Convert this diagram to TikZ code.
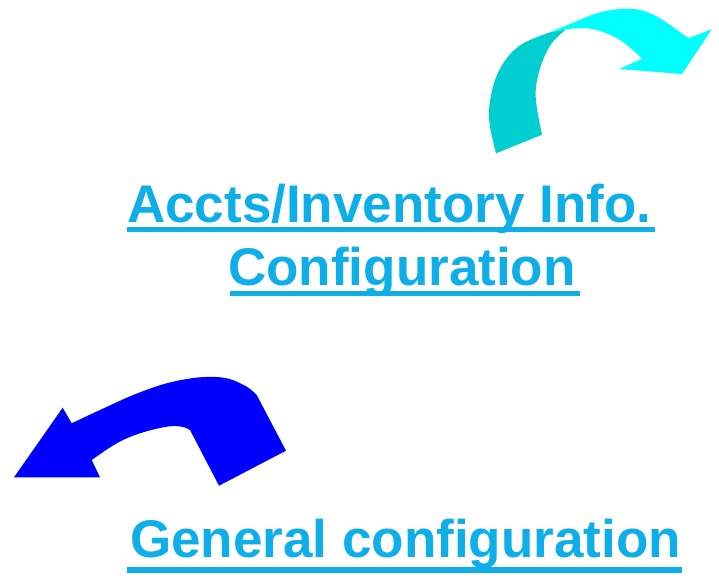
\documentclass[tikz,border=0pt]{standalone}
\usepackage{fontspec}
\setmainfont{Liberation Sans}
\definecolor{txtblue}{RGB}{14,174,233}
\definecolor{cyanlight}{RGB}{0,255,255}
\definecolor{cyandark}{RGB}{0,206,209}
\definecolor{arrblue}{RGB}{0,0,255}
\tikzset{
  label text/.style={text=txtblue, font=\fontsize{53}{60}\selectfont\bfseries, inner sep=0pt, anchor=base west},
  uline/.style={fill=txtblue}
}
\begin{document}
\begin{tikzpicture}[x=1pt,y=-1pt]
\useasboundingbox[fill=white] (0,0) rectangle (719,580);

% cyan curved arrow: dark lower part
\fill[cyandark] (496,153.3)
  -- plot[smooth, tension=0.6] coordinates {(496,153.3) (490,126.7) (489.3,106.7) (495,80) (506.7,58.3) (523.3,43.3) (550,32.3)}
  -- (566,29.3)
  -- plot[smooth, tension=0.6] coordinates {(566,29.3) (551.7,43.3) (541.7,63.3) (536,86.7) (536.7,106.7) (542,134.7)}
  -- cycle;
% cyan curved arrow: bright upper part
\fill[cyanlight] (550,32.3)
  -- plot[smooth, tension=0.6] coordinates {(550,32.3) (573.3,22.7) (596.7,13.3) (620,9) (640,10) (660,18.3) (688.3,38.3)}
  -- (711.7,29.3) -- (682,74) -- (619.3,69) -- (642.3,58.7)
  -- plot[smooth, tension=0.6] coordinates {(642.3,58.7) (620,40) (596.7,30) (580,28.3) (566,29.3)}
  -- cycle;

% blue curved arrow
\fill[arrblue] (14,477.3) -- (62.7,407.7) -- (71.7,423.3)
  -- plot[smooth, tension=0.6] coordinates {(71.7,423.3) (100,410) (133.3,395) (166.7,383.3) (200,377.3) (226.7,378.3) (246.7,386.7) (256.7,395)}
  -- (286,450.7) -- (219,485.7) -- (190,430)
  -- plot[smooth, tension=0.6] coordinates {(190,430) (181.7,426.7) (166.7,426.7) (140,433.3) (116.7,443.3) (91.7,460)}
  -- (100,477.3) -- cycle;

% labels
\node[label text] (l1) at (127,222) {Accts/Inventory Info.};
\node[label text] (l2) at (228,285) {Configuration};
\node[label text] (l3) at (130,557) {General configuration};

% underlines
\fill[uline] (127,226.5) rectangle (655,231.5);
\fill[uline] (230,291) rectangle (580,296);
\fill[uline] (127,567) rectangle (682,572.5);
\end{tikzpicture}
\end{document}
